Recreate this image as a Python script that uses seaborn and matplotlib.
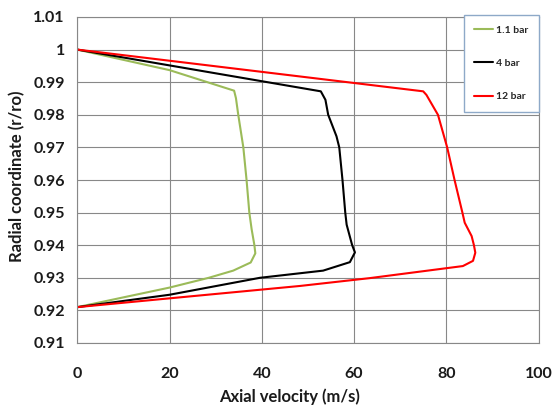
import numpy as np
import pandas as pd
import matplotlib
matplotlib.use("Agg")
import matplotlib.pyplot as plt
import seaborn as sns
from matplotlib.ticker import FuncFormatter

# ---- data ----
series_names = ["1.1 bar", "4 bar", "12 bar"]

r_11 = [1.0, 0.9937, 0.9874, 0.9851, 0.980, 0.970, 0.960, 0.950, 0.9449, 0.940,
        0.9375, 0.9347, 0.9322, 0.930, 0.927, 0.921]
v_11 = [0, 20.0, 34.0, 34.4, 34.9, 36.0, 36.7, 37.3, 37.8, 38.4,
        38.6, 37.6, 33.8, 28.5, 20.0, 0]

r_4 = [1.0, 0.9872, 0.9846, 0.980, 0.9734, 0.970, 0.960, 0.950, 0.9463, 0.940,
       0.9378, 0.9348, 0.9322, 0.930, 0.9248, 0.921]
v_4 = [0, 52.8, 53.8, 54.4, 56.2, 56.8, 57.5, 58.1, 58.4, 59.6,
       60.2, 59.1, 53.3, 39.6, 20.0, 0]

r_12 = [1.0, 0.9872, 0.9861, 0.980, 0.970, 0.960, 0.950, 0.9469, 0.9428, 0.940,
        0.9377, 0.9352, 0.9336, 0.9299, 0.9275, 0.9237, 0.921]
v_12 = [0, 75.0, 75.7, 78.2, 80.2, 81.8, 83.5, 84.0, 85.5, 86.0,
        86.3, 85.8, 83.6, 63.4, 48.3, 20.0, 0]

x_ticks = [0, 20, 40, 60, 80, 100]
y_ticks = [0.91, 0.92, 0.93, 0.94, 0.95, 0.96, 0.97, 0.98, 0.99, 1.0, 1.01]

frames = []
for name, v, r in zip(series_names, [v_11, v_4, v_12], [r_11, r_4, r_12]):
    frames.append(pd.DataFrame({"v": v, "r": r, "series": name}))
df = pd.concat(frames, ignore_index=True)

# ---- style ----
sns.set_theme(style="white")
plt.rcParams["font.family"] = ["Lato", "DejaVu Sans"]

palette = {"1.1 bar": "#9BBB59", "4 bar": "#000000", "12 bar": "#FF0000"}

fig = plt.figure(figsize=(5.52, 4.07), dpi=100)
ax = fig.add_axes([77.3 / 552, 1 - 343 / 407, (538.5 - 77.3) / 552, (343 - 17) / 407])

sns.lineplot(data=df, x="v", y="r", hue="series", palette=palette,
             hue_order=series_names, sort=False, estimator=None,
             units="series", linewidth=1.5, ax=ax, legend=True)

ax.set_xlim(0, 100)
ax.set_ylim(0.91, 1.01)
ax.set_xticks(x_ticks)
ax.set_yticks(y_ticks)
ax.yaxis.set_major_formatter(FuncFormatter(lambda v, p: f"{round(v, 2):g}"))

grid_c = "#888888"
ax.grid(True, color=grid_c, linewidth=0.8)
ax.set_axisbelow(True)
for s in ["left", "bottom", "top", "right"]:
    ax.spines[s].set_color(grid_c)
    ax.spines[s].set_linewidth(0.8)

text_c = "#1a1a1a"
ax.tick_params(axis="both", direction="out", length=5, width=0.8, color=grid_c,
               labelsize=11.5, labelcolor=text_c)
ax.tick_params(axis="y", pad=4)
ax.tick_params(axis="x", pad=12)
for lab in ax.get_xticklabels() + ax.get_yticklabels():
    lab.set_fontweight("bold")

ax.set_xlabel("Axial velocity (m/s)", fontsize=12, fontweight="bold", color=text_c)
ax.set_ylabel("Radial coordinate (r/ro)", fontsize=12, fontweight="bold", color=text_c)
ax.xaxis.set_label_coords((290 - 77.3) / 461.2, -(388 - 343) / 326)
ax.yaxis.set_label_coords(-(77.3 - 25) / 461.2, (343 - 176.5) / 326)

leg = ax.legend(loc="upper right", bbox_to_anchor=(1.0, 1.006), frameon=True,
                fancybox=False, fontsize=7.5, labelspacing=2.3, handlelength=1.8,
                handletextpad=0.3, borderpad=1.0, borderaxespad=0.0)
leg.get_frame().set_edgecolor("#8EA9C8")
leg.get_frame().set_linewidth(1.0)
leg.get_frame().set_facecolor("white")
leg.get_frame().set_alpha(1)
for t in leg.get_texts():
    t.set_fontweight("bold")
for h in leg.get_lines():
    h.set_linewidth(1.5)

fig.savefig("out.png", dpi=100)
